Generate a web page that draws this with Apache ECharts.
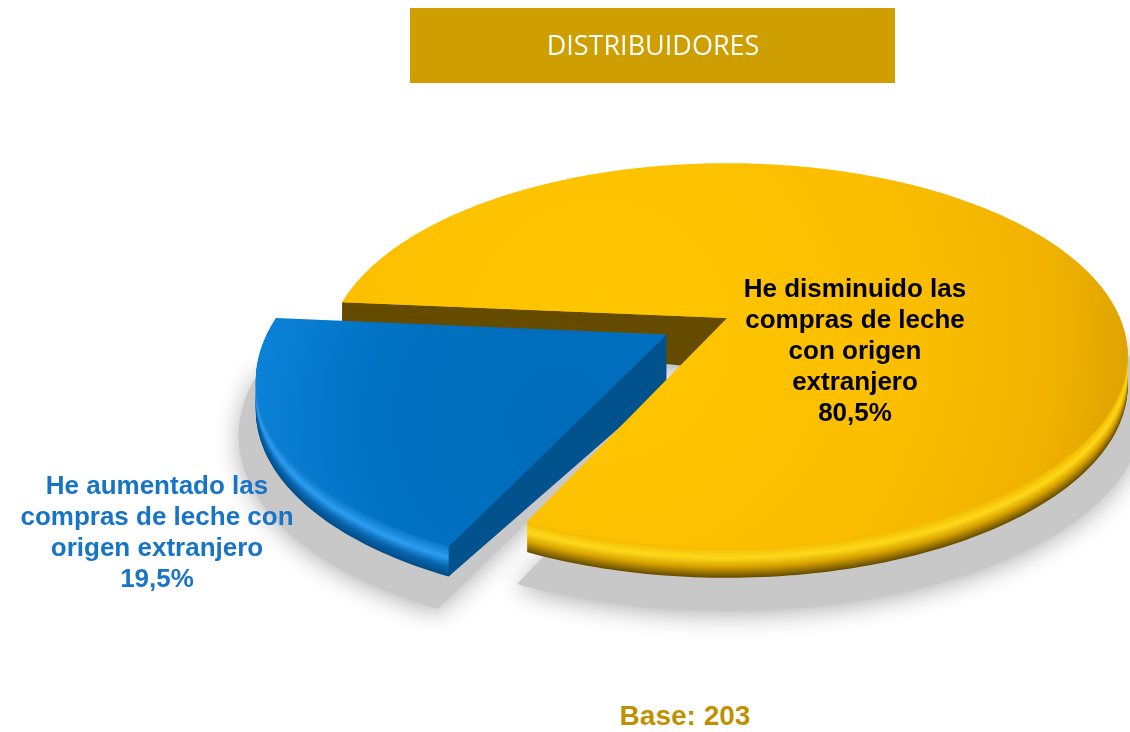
<!DOCTYPE html>
<html>
<head>
<meta charset="utf-8">
<script src="https://cdn.jsdelivr.net/npm/echarts@6/dist/echarts.min.js"></script>
<style>
  html, body { margin: 0; padding: 0; background: #fff; }
  #chart { width: 1130px; height: 732px; }
</style>
</head>
<body>
<div id="chart"></div>
<script>
// data
const categories = [
  "He aumentado las compras de leche con origen extranjero",
  "He disminuido las compras de leche con origen extranjero",
];
const values = [19.5, 80.5];
const explodeOffsets = [0.175, 0];
const labelLines = [
  ["He aumentado las", "compras de leche con", "origen extranjero"],
  ["He disminuido las", "compras de leche", "con origen", "extranjero"],
];
const titleText = "DISTRIBUIDORES";
const baseText = "Base: 203";

// 3d look: simple perspective of a tilted disc
const CX = 727, CY = 318, AX = 393, BY = 185, K = 0.195;
const DEPTH = 30;       // rim thickness
const DEPTH_APEX = 52;  // cut walls look taller near the centre
const START_ANGLE = 175;

const sliceStyle = [
  {
    wall: "#02528E",
    rim: [[0, "#0C78C8"], [0.4, "#2C9EF2"], [0.7, "#0A66AE"], [1, "#024E88"]],
    grad: { x: 560, y: 420, r: 300, stops: [[0, "#006CBA"], [0.6, "#0070C0"], [1, "#0A80D6"]] },
    label: { x: 157, y: 533, color: "#1874C6" },
  },
  {
    wall: "#654B00",
    rim: [[0, "#F2B900"], [0.35, "#FFD91A"], [0.65, "#D9A300"], [1, "#6A4F00"]],
    grad: { x: 600, y: 330, r: 560, stops: [[0, "#FFC700"], [0.55, "#FBBE00"], [0.82, "#F0B200"], [1, "#D69C00"]] },
    label: { x: 855, y: 352, color: "#000000" },
  },
];

function proj(u, v, dy) {
  const w = 1 + K * v;
  return [CX + (AX * u) / w, CY - (BY * v) / w + (dy || 0)];
}

function sectorPoints(t0, t1, off, rs, dy) {
  const pts = [proj(off[0], off[1], dy)];
  const n = Math.max(2, Math.ceil(t1 - t0));
  for (let i = 0; i <= n; i++) {
    const t = ((t0 + ((t1 - t0) * i) / n) * Math.PI) / 180;
    pts.push(proj(off[0] + rs * Math.cos(t), off[1] + rs * Math.sin(t), dy));
  }
  return pts;
}

function hexToRgb(h) {
  const n = parseInt(h.slice(1), 16);
  return [(n >> 16) & 255, (n >> 8) & 255, n & 255];
}

function rimColor(stops, f) {
  for (let i = 1; i < stops.length; i++) {
    if (f <= stops[i][0]) {
      const a = stops[i - 1], b = stops[i];
      const p = (f - a[0]) / (b[0] - a[0]);
      const ca = hexToRgb(a[1]), cb = hexToRgb(b[1]);
      const c = ca.map((x, k) => Math.round(x + (cb[k] - x) * p));
      return `rgb(${c[0]},${c[1]},${c[2]})`;
    }
  }
  return stops[stops.length - 1][1];
}

function sliceAngles(idx) {
  const total = values.reduce((s, v) => s + v, 0);
  let t0 = START_ANGLE;
  for (let i = 0; i < idx; i++) t0 += (values[i] / total) * 360;
  return [t0, t0 + (values[idx] / total) * 360];
}

function renderSlice(params, api) {
  const idx = params.dataIndex;
  const [t0, t1] = sliceAngles(idx);
  const mid = (((t0 + t1) / 2) * Math.PI) / 180;
  const e = explodeOffsets[idx];
  const off = [e * Math.cos(mid), e * Math.sin(mid)];
  const st = sliceStyle[idx];
  const exploded = e > 0;
  const wallZ = exploded ? 20 : 10;
  const topZ = exploded ? 40 : 50;
  const children = [];

  // soft ground shadow
  children.push({
    type: "polygon",
    z2: 0,
    shape: { points: sectorPoints(t0, t1, off, 1.04, DEPTH + 22) },
    style: { fill: "#C8C8C8", shadowBlur: 24, shadowColor: "rgba(0,0,0,0.3)", shadowOffsetY: 4 },
    silent: true,
  });

  // side rim, stacked from bottom to top
  for (let d = DEPTH; d >= 1; d--) {
    children.push({
      type: "polygon",
      z2: wallZ,
      shape: { points: sectorPoints(t0, t1, off, 1, d) },
      style: { fill: rimColor(st.rim, d / DEPTH) },
      silent: true,
    });
  }

  // radial cut walls, only the ones facing the viewer
  [[t0, -90], [t1, 90]].forEach(([t, turn]) => {
    const normal = ((t + turn) * Math.PI) / 180;
    if (Math.sin(normal) >= 0) return;
    const r = (t * Math.PI) / 180;
    const ru = off[0] + Math.cos(r), rv = off[1] + Math.sin(r);
    children.push({
      type: "polygon",
      z2: wallZ + 1,
      shape: {
        points: [proj(off[0], off[1], 0), proj(ru, rv, 0), proj(ru, rv, DEPTH), proj(off[0], off[1], DEPTH_APEX)],
      },
      style: { fill: st.wall },
      silent: true,
    });
  });

  // top face
  children.push({
    type: "polygon",
    z2: topZ,
    shape: { points: sectorPoints(t0, t1, off, 1, 0) },
    style: {
      fill: {
        type: "radial", x: st.grad.x, y: st.grad.y, r: st.grad.r, global: true,
        colorStops: st.grad.stops.map(([o, c]) => ({ offset: o, color: c })),
      },
    },
  });

  return { type: "group", children };
}

function fmtPct(v) {
  return v.toFixed(1).replace(".", ",") + "%";
}

const chart = echarts.init(document.getElementById("chart"));

const labelGraphics = values.map((v, i) => ({
  type: "text",
  z: 100,
  x: sliceStyle[i].label.x,
  y: sliceStyle[i].label.y,
  style: {
    text: labelLines[i].concat([fmtPct(v)]).join("\n"),
    fill: sliceStyle[i].label.color,
    font: 'bold 26px "Liberation Sans", Arial, sans-serif',
    lineHeight: 31,
    align: "center",
    verticalAlign: "middle",
  },
}));

chart.setOption({
  animation: false,
  backgroundColor: "#ffffff",
  graphic: [
    { type: "rect", z: 100, shape: { x: 410, y: 8, width: 485, height: 75 }, style: { fill: "#CF9E00" } },
    {
      type: "text", z: 101, x: 653, y: 47,
      style: {
        text: titleText, fill: "#ffffff",
        font: '27px "Open Sans", "Noto Sans", sans-serif',
        align: "center", verticalAlign: "middle",
      },
    },
    ...labelGraphics,
    {
      type: "text", z: 100, x: 685, y: 717,
      style: {
        text: baseText, fill: "#BF9000",
        font: 'bold 28px "Liberation Sans", Arial, sans-serif',
        align: "center", verticalAlign: "middle",
      },
    },
  ],
  series: [
    {
      type: "custom",
      coordinateSystem: "none",
      renderItem: renderSlice,
      data: values.map((v, i) => ({ name: categories[i], value: [v, i] })),
    },
  ],
});

window.addEventListener("resize", () => chart.resize());
</script>
</body>
</html>
